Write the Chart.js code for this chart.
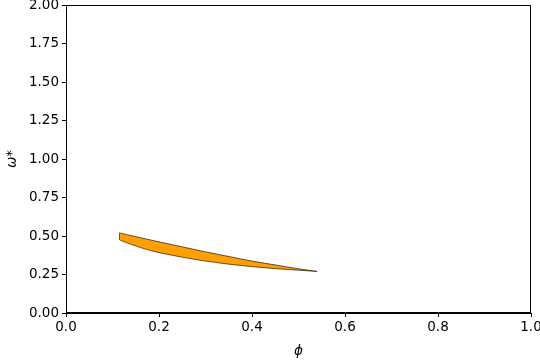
<!DOCTYPE html>
<html>
<head>
<meta charset="utf-8">
<script src="https://cdn.jsdelivr.net/npm/chart.js@4"></script>
<style>
body{margin:0;background:#fff;}
#wrap{width:540px;height:360px;}
</style>
</head>
<body>
<div id="wrap"><canvas id="chart"></canvas></div>
<script>
// upper and lower edges of the region
const upperPhi=[0.115,0.2,0.3,0.4,0.5,0.54];
const upperOmega=[0.52,0.462,0.397,0.337,0.287,0.27];
const lowerPhi=[0.115,0.125,0.14,0.16,0.18,0.2,0.25,0.3,0.35,0.4,0.45,0.5,0.54];
const lowerOmega=[0.475,0.462,0.446,0.425,0.407,0.392,0.362,0.337,0.317,0.301,0.288,0.278,0.27];

const xTicks=[0,0.2,0.4,0.6,0.8,1.0];
const yTicks=[0,0.25,0.5,0.75,1.0,1.25,1.5,1.75,2.0];

// closed outline: along the top, back along the bottom
const outline=[];
upperPhi.forEach((p,i)=>outline.push({x:p,y:upperOmega[i]}));
for(let i=lowerPhi.length-1;i>=0;i--){
    outline.push({x:lowerPhi[i],y:lowerOmega[i]});
}
outline.push({x:upperPhi[0],y:upperOmega[0]});

const frame={
    id:"frame",
    afterDraw(chart){
        const a=chart.chartArea,c=chart.ctx;
        c.save();
        c.strokeStyle="#000";
        c.lineWidth=1;
        c.strokeRect(a.left+0.5,a.top+0.5,a.right-a.left-1,a.bottom-a.top-1);
        c.restore();
    }
};

const font={family:"DejaVu Sans",size:13.5};

new Chart(document.getElementById("chart"),{
    type:"scatter",
    data:{
        datasets:[{
            data:outline,
            showLine:true,
            fill:"shape",
            backgroundColor:"#ff9f00",
            borderColor:"#000",
            borderWidth:0.6,
            pointRadius:0,
            tension:0
        }]
    },
    options:{
        responsive:true,
        maintainAspectRatio:false,
        animation:false,
        layout:{padding:{top:5,right:9,left:0,bottom:0}},
        plugins:{legend:{display:false},tooltip:{enabled:false}},
        scales:{
            x:{
                type:"linear",min:0,max:1,
                afterBuildTicks:s=>{s.ticks=xTicks.map(v=>({value:v}));},
                afterFit:s=>{s.height=47;s.paddingLeft=0;s.paddingRight=0;},
                ticks:{color:"#000",font:font,padding:2,maxRotation:0,callback:v=>v.toFixed(1)},
                grid:{drawOnChartArea:false,tickLength:4,color:"#000"},
                border:{color:"#000"},
                title:{display:true,text:"ϕ",color:"#000",font:{family:"DejaVu Sans",size:13.5,style:"italic"},padding:{top:6,bottom:0}}
            },
            y:{
                type:"linear",min:0,max:2,
                afterBuildTicks:s=>{s.ticks=yTicks.map(v=>({value:v}));},
                afterFit:s=>{s.width=66;s.paddingTop=0;s.paddingBottom=0;},
                ticks:{color:"#000",font:font,padding:3,callback:v=>v.toFixed(2)},
                grid:{drawOnChartArea:false,tickLength:4,color:"#000"},
                border:{color:"#000"},
                title:{display:true,text:"ω*",color:"#000",font:{family:"DejaVu Sans",size:13.5,style:"italic"},padding:{bottom:2}}
            }
        }
    },
    plugins:[frame]
});
</script>
</body>
</html>
